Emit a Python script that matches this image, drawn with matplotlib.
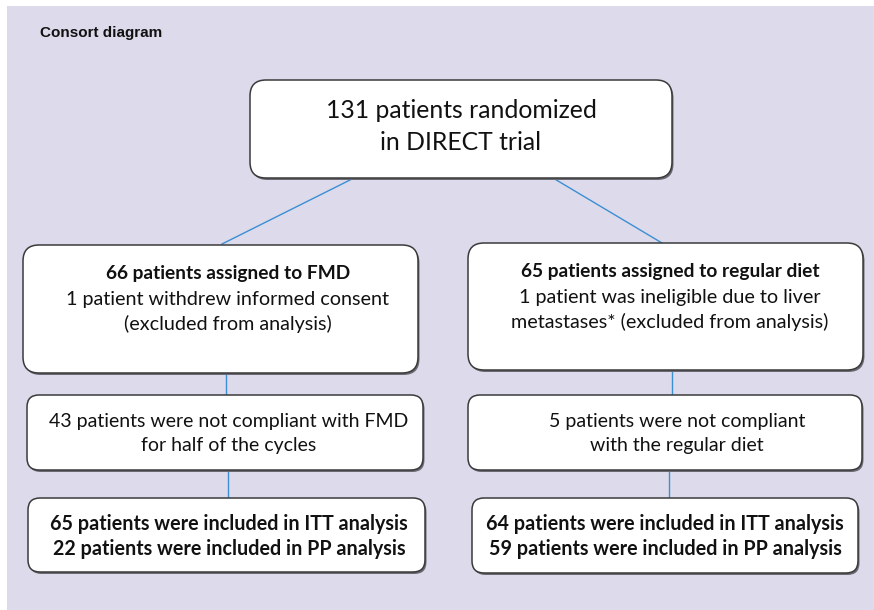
import matplotlib.pyplot as plt
from matplotlib.patches import FancyBboxPatch, Rectangle

# diagram content
title = "Consort diagram"
top_text = ["131 patients randomized", "in DIRECT trial"]
arm_heads = ["66 patients assigned to FMD", "65 patients assigned to regular diet"]
arm_notes = [["1 patient withdrew informed consent", "(excluded from analysis)"],
             ["1 patient was ineligible due to liver", "metastases* (excluded from analysis)"]]
compliance = [["43 patients were not compliant with FMD", "for half of the cycles"],
              ["5 patients were not compliant", "with the regular diet"]]
itt_n = [65, 64]
pp_n = [22, 59]

bg = "#dddaeb"
line_col = "#3b8fd4"
edge = "#3a3a3a"
font = "Lato"

fig = plt.figure(figsize=(8.74, 6.10), dpi=100)
ax = fig.add_axes([0, 0, 1, 1])
ax.set_xlim(0, 874)
ax.set_ylim(610, 0)
ax.axis("off")

ax.add_patch(Rectangle((7, 6), 874, 610, facecolor=bg, edgecolor="none", zorder=0))


def box(x0, y0, x1, y1, r=14):
    sh = FancyBboxPatch((x0 + 1.5, y0 + 2), x1 - x0, y1 - y0,
                        boxstyle=f"round,pad=0,rounding_size={r}",
                        facecolor="#6a6a72", edgecolor="none", zorder=2)
    ax.add_patch(sh)
    b = FancyBboxPatch((x0, y0), x1 - x0, y1 - y0,
                       boxstyle=f"round,pad=0,rounding_size={r}",
                       facecolor="white", edgecolor=edge, linewidth=1.1, zorder=3)
    ax.add_patch(b)


def line(x0, y0, x1, y1):
    ax.plot([x0, x1], [y0, y1], color=line_col, lw=1.0, zorder=1)


def txt(x, y, s, size, bold=False, family=font):
    ax.text(x, y, s, ha="center", va="center", fontsize=size,
            fontweight="bold" if bold else "normal", family=family,
            color="#111111", zorder=4)


ax.text(40, 33, title, ha="left", va="center", fontsize=11,
        fontweight="bold", family="Liberation Sans", color="#111111")

# connectors
line(354, 178, 222, 244)
line(553, 178, 662, 243)
line(226, 373, 226, 395)
line(672, 370, 672, 395)
line(228, 470, 228, 498)
line(669, 470, 669, 498)

# top box
box(250, 80, 672, 178, r=16)
txt(461, 111, top_text[0], 17.8)
txt(461, 143, top_text[1], 17.8)

# arm boxes
arm_boxes = [(23, 245, 418, 373), (468, 243, 863, 370)]
arm_cx = [228, 670]
for i, (x0, y0, x1, y1) in enumerate(arm_boxes):
    box(x0, y0, x1, y1, r=16)
    txt(arm_cx[i], y0 + 29, arm_heads[i], 13.8, bold=True)
    txt(arm_cx[i], y0 + 54, arm_notes[i][0], 14.2)
    txt(arm_cx[i], y0 + 79, arm_notes[i][1], 14.2)

# compliance boxes
comp_boxes = [(27, 395, 423, 470), (468, 395, 862, 470)]
comp_cx = [229, 677]
for i, (x0, y0, x1, y1) in enumerate(comp_boxes):
    box(x0, y0, x1, y1, r=12)
    txt(comp_cx[i], 421, compliance[i][0], 14)
    txt(comp_cx[i], 445, compliance[i][1], 14)

# analysis boxes
an_boxes = [(28, 498, 425, 572), (472, 498, 858, 573)]
an_cx = [229, 665]
for i, (x0, y0, x1, y1) in enumerate(an_boxes):
    box(x0, y0, x1, y1, r=12)
    txt(an_cx[i], 524, f"{itt_n[i]} patients were included in ITT analysis", 14.2, bold=True)
    txt(an_cx[i], 549, f"{pp_n[i]} patients were included in PP analysis", 14.2, bold=True)

fig.savefig("out.png", dpi=100, facecolor="white")
